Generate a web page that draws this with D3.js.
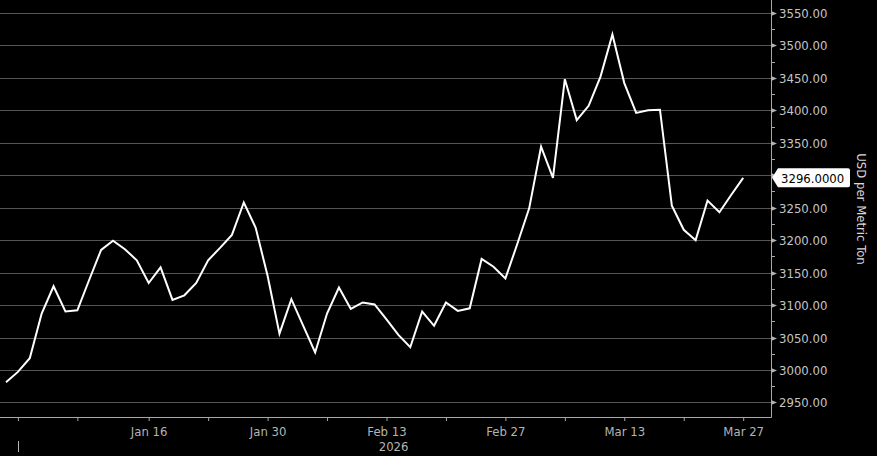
<!DOCTYPE html>
<html>
<head>
<meta charset="utf-8">
<script src="https://cdn.jsdelivr.net/npm/d3@7"></script>
<style>
  html, body { margin: 0; padding: 0; background: #000; }
  svg { display: block; }
  text { font-family: "DejaVu Sans Condensed", "Noto Sans", sans-serif; font-stretch: condensed; }
</style>
</head>
<body>
<div id="chart"></div>
<script>
// daily closes, one per trading day (index 0 = last session of 2025)
var prices = [
  2981, 2997, 3018, 3087, 3129, 3090, 3092, 3139, 3185, 3199,
  3186, 3169, 3134, 3158, 3108, 3115, 3134, 3169, 3188, 3208,
  3258, 3219, 3145, 3056, 3109, 3068, 3027, 3087, 3127, 3094,
  3104, 3101, 3078, 3054, 3035, 3090, 3068, 3104, 3091, 3095,
  3171, 3159, 3141, 3194, 3249, 3344, 3296, 3448, 3385, 3407,
  3452, 3517, 3442, 3396, 3400, 3401, 3253, 3216, 3200, 3261,
  3243, 3270, 3296
];
var lastLabel = "3296.0000";

// x ticks (trading-day index) and their labels
var xTickIdx = [1, 6, 12, 17, 22, 27, 32, 37, 42, 47, 52, 57, 62];
var xTickLabels = ["", "", "Jan 16", "", "Jan 30", "", "Feb 13", "", "Feb 27", "", "Mar 13", "", "Mar 27"];
var yearIdx = 1;
var yearLabel = "2026";
var yearLabelIdx = 32.6;

var yTicks = [2950, 3000, 3050, 3100, 3150, 3200, 3250, 3300, 3350, 3400, 3450, 3500, 3550];
var yMinor = [2975, 3025, 3075, 3125, 3175, 3225, 3275, 3325, 3375, 3425, 3475, 3525];
var unitLabel = "USD per Metric Ton";

var width = 877, height = 456;
var plotRight = 771, plotBottom = 417;

var svg = d3.select("#chart").append("svg")
  .attr("width", width)
  .attr("height", height);

svg.append("rect").attr("width", width).attr("height", height).attr("fill", "#000");

var x = d3.scaleLinear().domain([0, prices.length - 1]).range([6, 743.2]);
var y = d3.scaleLinear().domain([2950, 3550]).range([402.4, 13]);

var lastY = y(prices[prices.length - 1]);

/* grid */
svg.append("g").attr("class", "grid")
  .selectAll("line")
  .data(yTicks).enter()
  .append("line")
  .attr("x1", 0).attr("x2", plotRight)
  .attr("y1", d => Math.round(y(d)) + 0.5)
  .attr("y2", d => Math.round(y(d)) + 0.5)
  .attr("stroke", "#555")
  .attr("stroke-width", 1);

/* frame */
svg.append("line")
  .attr("x1", plotRight + 0.5).attr("x2", plotRight + 0.5)
  .attr("y1", 0).attr("y2", plotBottom + 0.5)
  .attr("stroke", "#a8a8a8");
svg.append("line")
  .attr("x1", 0).attr("x2", plotRight + 0.5)
  .attr("y1", plotBottom + 0.5).attr("y2", plotBottom + 0.5)
  .attr("stroke", "#a8a8a8");

/* x axis */
var xAxis = d3.axisBottom(x)
  .tickValues(xTickIdx)
  .tickFormat((d, i) => xTickLabels[i])
  .tickSize(4)
  .tickSizeOuter(0)
  .tickPadding(6);

var gx = svg.append("g")
  .attr("transform", `translate(0, ${plotBottom})`)
  .call(xAxis);
gx.select(".domain").remove();
gx.selectAll(".tick line").attr("stroke", "#a8a8a8");
gx.selectAll(".tick text")
  .attr("fill", "#b4b4b4")
  .style("font-size", "13px");

svg.append("line")
  .attr("x1", Math.round(x(yearIdx)) + 0.5).attr("x2", Math.round(x(yearIdx)) + 0.5)
  .attr("y1", 441).attr("y2", 452)
  .attr("stroke", "#b4b4b4");
svg.append("text")
  .attr("x", x(yearLabelIdx))
  .attr("y", 451)
  .attr("text-anchor", "middle")
  .attr("fill", "#b4b4b4")
  .style("font-size", "13px")
  .text(yearLabel);

/* y axis on the right */
var gy = svg.append("g").attr("class", "y axis");
gy.selectAll(".minor")
  .data(yMinor).enter()
  .append("line")
  .attr("class", "minor")
  .attr("x1", plotRight).attr("x2", plotRight + 4)
  .attr("y1", d => Math.round(y(d)) + 0.5)
  .attr("y2", d => Math.round(y(d)) + 0.5)
  .attr("stroke", "#a8a8a8");

var major = gy.selectAll(".major")
  .data(yTicks).enter()
  .append("g")
  .attr("class", "major")
  .attr("transform", d => `translate(${plotRight}, ${Math.round(y(d)) + 0.5})`);
major.append("path")
  .attr("d", "M0,-2.5L6,0L0,2.5Z")
  .attr("fill", "#b4b4b4");
// the last-value tag hides any label it sits on
major.filter(d => Math.abs(y(d) - lastY) > 14)
  .append("text")
  .attr("x", 8)
  .attr("dy", "0.36em")
  .attr("fill", "#c4c4c4")
  .style("font-size", "13px")
  .text(d => d3.format(".2f")(d));

/* price line */
var line = d3.line()
  .x((d, i) => x(i))
  .y(d => y(d));

svg.append("path")
  .datum(prices)
  .attr("d", line)
  .attr("fill", "none")
  .attr("stroke", "#fff")
  .attr("stroke-width", 2)
  .attr("stroke-linejoin", "miter");

/* last value tag */
var tag = svg.append("g").attr("transform", `translate(${plotRight + 1}, ${lastY})`);
tag.append("path")
  .attr("d", "M0,0L6,-9.5H76a2,2 0 0 1 2,2V7.5a2,2 0 0 1 -2,2H6Z")
  .attr("fill", "#fff");
tag.append("text")
  .attr("x", 9)
  .attr("dy", "0.36em")
  .attr("fill", "#000")
  .style("font-size", "13px")
  .text(lastLabel);

/* unit label */
svg.append("text")
  .attr("transform", "translate(857, 209) rotate(90)")
  .attr("text-anchor", "middle")
  .attr("fill", "#d8d8d8")
  .style("font-size", "13px")
  .text(unitLabel);
</script>
</body>
</html>
